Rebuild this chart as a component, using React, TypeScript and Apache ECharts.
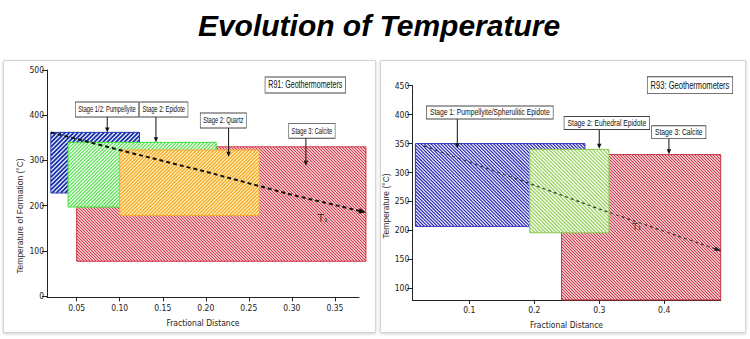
import React, { useEffect, useRef } from 'react';
import * as echarts from 'echarts';

// ---------------- data ----------------
// Left panel (R91): stage boxes [x start, x end, T min, T max]
const leftStageNames = ['Stage 3: Calcite', 'Stage 1/2: Pumpellyite', 'Stage 2: Epidote', 'Stage 2: Quartz'];
const leftXStart = [0.05, 0.02, 0.04, 0.1];
const leftXEnd = [0.386, 0.123, 0.212, 0.262];
const leftTMin = [77, 228, 197, 178];
const leftTMax = [330, 362, 340, 323];

// Right panel (R93)
const rightStageNames = ['Stage 1: Pumpellyite/Spherulitic Epidote', 'Stage 3: Calcite', 'Stage 2: Euhedral Epidote'];
const rightXStart = [0.017, 0.242, 0.193];
const rightXEnd = [0.278, 0.487, 0.315];
const rightTMin = [207, 80, 196];
const rightTMax = [350, 331, 340];

// Temperature trend (T1)
const leftTrendX = [0.02, 0.1, 0.2, 0.3, 0.386];
const leftTrendT = [362, 323, 275, 224, 185];
const rightTrendX = [0.03, 0.1, 0.193, 0.3, 0.487];
const rightTrendT = [346, 318, 281, 237, 165];

// Ticks
const leftTickX = [0.05, 0.1, 0.15, 0.2, 0.25, 0.3, 0.35];
const leftTickT = [0, 100, 200, 300, 400, 500];
const rightTickX = [0.1, 0.2, 0.3, 0.4];
const rightTickT = [100, 150, 200, 250, 300, 350, 400, 450];

// Callouts: label anchor (x, T) and arrow (x, tip T)
const leftNoteText = ['Stage 1/2: Pumpellyite', 'Stage 2: Epidote', 'Stage 2: Quartz', 'Stage 3: Calcite'];
const leftNoteX = [0.0852, 0.1512, 0.2203, 0.3233];
const leftNoteT = [412.6, 412.6, 388.3, 365.5];
const leftArrowX = [0.0855, 0.1421, 0.2265, 0.3163];
const leftArrowT = [362, 340, 308, 288];

const rightNoteText = ['Stage 1: Pumpellyite/Spherulitic Epidote', 'Stage 2: Euhedral Epidote', 'Stage 3: Calcite'];
const rightNoteX = [0.1315, 0.3117, 0.4224];
const rightNoteT = [403.7, 385.6, 369.7];
const rightArrowX = [0.0815, 0.3, 0.4073];
const rightArrowT = [342, 341, 331.5];

const trendLabel = 'T₁';
const leftT1 = [0.336, 172];
const rightT1 = [0.358, 206];

// ---------------- styles ----------------
const NARROW = "'Liberation Sans Narrow', 'DejaVu Sans Condensed', 'Liberation Sans', sans-serif";
const SANS = "'Liberation Sans', Arial, sans-serif";

const leftHatch = [
  { line: '#d23748', bg: '#fff3f4', border: '#d02c3c', dir: -1, period: 3.0, width: 1.1 },
  { line: '#1a32a8', bg: '#eef1ff', border: '#1f37b8', dir: 1, period: 4.3, width: 1.8 },
  { line: '#5ede58', bg: '#f2fff0', border: '#3ce238', dir: 1, period: 3.5, width: 1.25 },
  { line: '#f4ad2c', bg: '#fff0c0', border: '#f4a72a', dir: 1, period: 3.5, width: 1.3 },
];
const rightHatch = [
  { line: '#2a28b2', bg: '#f3f3ff', border: '#3030c0', dir: -1, period: 3.3, width: 1.2 },
  { line: '#c83444', bg: '#fff3f4', border: '#c83040', dir: -1, period: 3.0, width: 1.1 },
  { line: '#98d060', bg: '#f7fff0', border: '#8cc850', dir: -1, period: 3.6, width: 1.2 },
];

function hatchRender(styles: any[]) {
  return (params: any, api: any) => {
    const st = styles[params.dataIndex];
    const p0 = api.coord([api.value(0), api.value(3)]);
    const p1 = api.coord([api.value(1), api.value(2)]);
    const x0 = p0[0], y0 = p0[1], x1 = p1[0], y1 = p1[1];
    const step = st.period;
    let d = '';
    if (st.dir > 0) {
      const cStart = Math.ceil((x0 + y0) / step) * step;
      for (let c = cStart; c <= x1 + y1; c += step) {
        const xa = Math.max(x0, c - y1);
        const xb = Math.min(x1, c - y0);
        if (xb > xa) d += `M${xa.toFixed(2)} ${(c - xa).toFixed(2)}L${xb.toFixed(2)} ${(c - xb).toFixed(2)}`;
      }
    } else {
      const kStart = Math.ceil((y0 - x1) / step) * step;
      for (let k = kStart; k <= y1 - x0; k += step) {
        const xa = Math.max(x0, y0 - k);
        const xb = Math.min(x1, y1 - k);
        if (xb > xa) d += `M${xa.toFixed(2)} ${(xa + k).toFixed(2)}L${xb.toFixed(2)} ${(xb + k).toFixed(2)}`;
      }
    }
    const shape = { x: x0, y: y0, width: x1 - x0, height: y1 - y0 };
    return {
      type: 'group',
      children: [
        { type: 'rect', shape, style: { fill: st.bg } },
        { type: 'path', shape: { pathData: d || 'M0 0' }, style: { stroke: st.line, lineWidth: st.width, fill: 'none' } },
        { type: 'rect', shape, style: { fill: 'none', stroke: st.border, lineWidth: 1 } },
      ],
    };
  };
}

function noteRender(texts: string[], fontSize: number, pad: number[], boxH: number, squeeze: number) {
  return (params: any, api: any) => {
    const i = params.dataIndex;
    const c = api.coord([api.value(0), api.value(1)]);
    const a = api.coord([api.value(2), api.value(3)]);
    const yStart = c[1] + boxH / 2;
    return {
      type: 'group',
      children: [
        { type: 'line', shape: { x1: a[0], y1: yStart, x2: a[0], y2: a[1] - 3 }, style: { stroke: '#111', lineWidth: 1 } },
        { type: 'polygon', shape: { points: [[a[0] - 2.2, a[1] - 5], [a[0] + 2.2, a[1] - 5], [a[0], a[1]]] }, style: { fill: '#111' } },
        {
          type: 'text', x: c[0], y: c[1], scaleX: squeeze,
          style: {
            text: texts[i], fill: '#111', fontSize, fontFamily: SANS, align: 'center', verticalAlign: 'middle',
            backgroundColor: '#fff', borderColor: '#444', borderWidth: 0.9, padding: pad,
          },
        },
      ],
    };
  };
}

function arrowRender(color: string, size: number) {
  return (params: any, api: any) => {
    const p = api.coord([api.value(0), api.value(1)]);
    const q = api.coord([api.value(2), api.value(3)]);
    const ang = Math.atan2(q[1] - p[1], q[0] - p[0]);
    const ux = Math.cos(ang), uy = Math.sin(ang);
    const bx = q[0] - ux * size, by = q[1] - uy * size;
    return {
      type: 'polygon',
      shape: { points: [[q[0], q[1]], [bx - uy * size * 0.4, by + ux * size * 0.4], [bx + uy * size * 0.4, by - ux * size * 0.4]] },
      style: { fill: color },
    };
  };
}

function textRender(fontSize: number) {
  return (params: any, api: any) => {
    const p = api.coord([api.value(0), api.value(1)]);
    return { type: 'text', x: p[0], y: p[1], style: { text: trendLabel, fill: '#333', fontSize, fontFamily: "'DejaVu Sans', sans-serif", align: 'center', verticalAlign: 'middle' } };
  };
}

const axisLabelBase = { color: '#222', fontSize: 8.5, fontFamily: NARROW };

function xAx(grid: number, min: number, max: number, ticks: number[], digits: number) {
  return {
    type: 'value', gridIndex: grid, min, max, name: 'Fractional Distance', nameLocation: 'middle', nameGap: 21,
    nameTextStyle: { color: '#222', fontSize: 8.5, fontFamily: NARROW },
    axisLine: { show: true, onZero: false, lineStyle: { color: '#222', width: 1 } },
    axisTick: { show: true, customValues: ticks, length: 4, lineStyle: { color: '#222' } },
    axisLabel: { ...axisLabelBase, customValues: ticks, margin: 6, formatter: (v: number) => v.toFixed(digits) },
    splitLine: { show: false },
  };
}
function yAx(grid: number, min: number, max: number, ticks: number[]) {
  return {
    type: 'value', gridIndex: grid, min, max,
    axisLine: { show: true, onZero: false, lineStyle: { color: '#222', width: 1 } },
    axisTick: { show: true, customValues: ticks, length: 5, lineStyle: { color: '#222' } },
    axisLabel: { ...axisLabelBase, customValues: ticks, margin: 3, formatter: (v: number) => String(Math.round(v)) },
    splitLine: { show: false },
  };
}

const zip4 = (a: number[], b: number[], c: number[], d: number[]) => a.map((v, i) => [v, b[i], c[i], d[i]]);
const zip2 = (a: number[], b: number[]) => a.map((v, i) => [v, b[i]]);
const lastSeg = (xs: number[], ts: number[]) => {
  const n = xs.length;
  return [[xs[n - 2], ts[n - 2], xs[n - 1], ts[n - 1]]];
};

const boxText = (x: number, y: number, text: string, fontSize: number, squeeze: number) => ({
  type: 'text', x, y, scaleX: squeeze,
  style: { text, fill: '#111', fontSize, fontFamily: SANS, align: 'center', verticalAlign: 'middle', backgroundColor: '#fff', borderColor: '#444', borderWidth: 0.9, padding: [2.5, 4] },
});

const option: any = {
  animation: false,
  backgroundColor: '#fff',
  grid: [
    { left: 47, top: 70, width: 312, height: 227.4 },
    { left: 412.3, top: 85.7, width: 308.4, height: 214.2 },
  ],
  xAxis: [xAx(0, 0.0155, 0.378, leftTickX, 2), xAx(1, 0.0122, 0.487, rightTickX, 1)],
  yAxis: [yAx(0, -3, 500, leftTickT), yAx(1, 80, 450, rightTickT)],
  graphic: [
    { type: 'rect', z: -10, shape: { x: 3.5, y: 60.5, width: 372, height: 272 }, style: { fill: '#fff', stroke: '#d4d4d4', lineWidth: 1, shadowBlur: 3, shadowColor: 'rgba(0,0,0,0.18)', shadowOffsetY: 1 } },
    { type: 'rect', z: -10, shape: { x: 380.5, y: 60.5, width: 365, height: 272 }, style: { fill: '#fff', stroke: '#d4d4d4', lineWidth: 1, shadowBlur: 3, shadowColor: 'rgba(0,0,0,0.18)', shadowOffsetY: 1 } },
    { type: 'text', x: 379, y: 25.6, style: { text: 'Evolution of Temperature', fill: '#000', fontSize: 30, fontWeight: 'bold', fontStyle: 'italic', fontFamily: SANS, align: 'center', verticalAlign: 'middle' } },
    { type: 'text', x: 20, y: 216, rotation: Math.PI / 2, style: { text: 'Temperature of Formation (°C)', fill: '#333', fontSize: 8.5, fontFamily: SANS, align: 'center', verticalAlign: 'middle' } },
    { type: 'text', x: 386, y: 206, rotation: Math.PI / 2, style: { text: 'Temperature (°C)', fill: '#333', fontSize: 8.5, fontFamily: SANS, align: 'center', verticalAlign: 'middle' } },
    boxText(305.3, 85, 'R91: Geothermometers', 10, 0.71),
    boxText(690, 85.2, 'R93: Geothermometers', 10.5, 0.72),
  ],
  series: [
    {
      type: 'custom', name: 'R91 stages', xAxisIndex: 0, yAxisIndex: 0, clip: false,
      encode: { x: [0, 1], y: [2, 3] },
      data: zip4(leftXStart, leftXEnd, leftTMin, leftTMax).map((v, i) => ({ name: leftStageNames[i], value: v })),
      renderItem: hatchRender(leftHatch),
    },
    {
      type: 'custom', name: 'R93 stages', xAxisIndex: 1, yAxisIndex: 1, clip: false,
      encode: { x: [0, 1], y: [2, 3] },
      data: zip4(rightXStart, rightXEnd, rightTMin, rightTMax).map((v, i) => ({ name: rightStageNames[i], value: v })),
      renderItem: hatchRender(rightHatch),
    },
    {
      type: 'line', name: 'R91 T1', xAxisIndex: 0, yAxisIndex: 0, clip: false, symbol: 'none', z: 5,
      data: zip2(leftTrendX, leftTrendT),
      lineStyle: { color: '#111', width: 2, type: [4, 3] },
    },
    {
      type: 'line', name: 'R93 T1', xAxisIndex: 1, yAxisIndex: 1, clip: false, symbol: 'none', z: 5,
      data: zip2(rightTrendX, rightTrendT),
      lineStyle: { color: '#333', width: 1.2, type: [3, 3] },
    },
    { type: 'custom', xAxisIndex: 0, yAxisIndex: 0, clip: false, z: 6, data: lastSeg(leftTrendX, leftTrendT), renderItem: arrowRender('#111', 7) },
    { type: 'custom', xAxisIndex: 1, yAxisIndex: 1, clip: false, z: 6, data: lastSeg(rightTrendX, rightTrendT), renderItem: arrowRender('#222', 6) },
    { type: 'custom', xAxisIndex: 0, yAxisIndex: 0, clip: false, z: 6, data: [leftT1], renderItem: textRender(10) },
    { type: 'custom', xAxisIndex: 1, yAxisIndex: 1, clip: false, z: 6, data: [rightT1], renderItem: textRender(9) },
    {
      type: 'custom', xAxisIndex: 0, yAxisIndex: 0, clip: false, z: 8,
      data: zip4(leftNoteX, leftNoteT, leftArrowX, leftArrowT),
      renderItem: noteRender(leftNoteText, 9, [2.5, 4], 14.4, 0.64),
    },
    {
      type: 'custom', xAxisIndex: 1, yAxisIndex: 1, clip: false, z: 8,
      data: zip4(rightNoteX, rightNoteT, rightArrowX, rightArrowT),
      renderItem: noteRender(rightNoteText, 9, [1.5, 4], 11.6, 0.75),
    },
  ],
};

export default function App() {
  const ref = useRef<HTMLDivElement>(null);
  useEffect(() => {
    const chart = echarts.init(ref.current as HTMLDivElement, null, { renderer: 'svg' });
    chart.setOption(option);
    return () => chart.dispose();
  }, []);
  return <div ref={ref} style={{ position: 'absolute', left: 0, top: 0, width: 750, height: 339, background: '#fff' }} />;
}
